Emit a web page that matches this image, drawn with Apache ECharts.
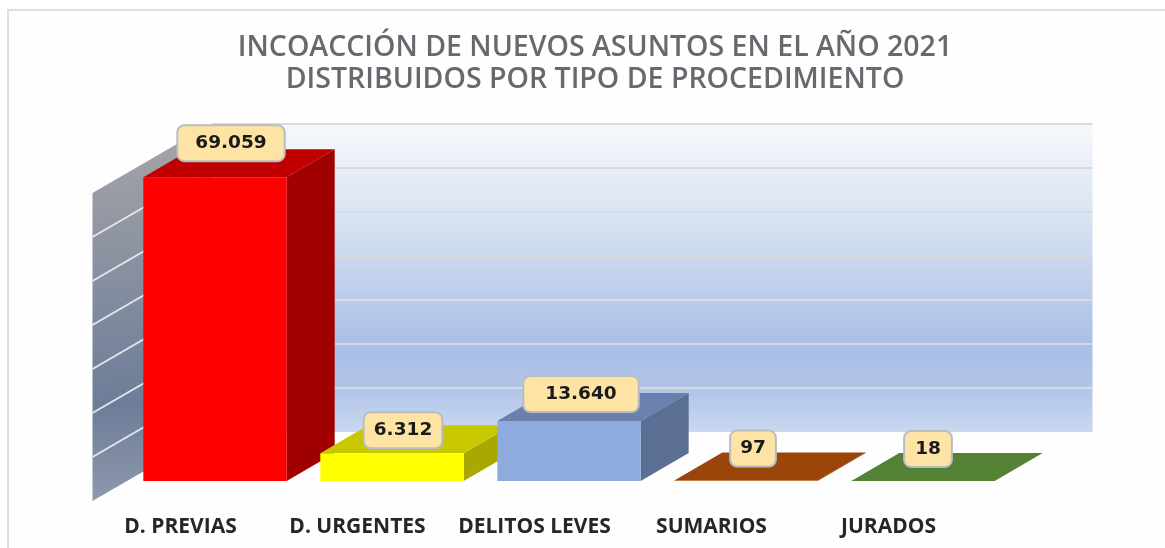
<!DOCTYPE html>
<html>
<head>
<meta charset="utf-8">
<style>
    html, body { margin: 0; padding: 0; background: #fff; }
    #chart { width: 1165px; height: 548px; }
</style>
<script src="https://cdn.jsdelivr.net/npm/echarts@6/dist/echarts.min.js"></script>
</head>
<body>
<div id="chart"></div>
<script>
    var titleLines = ['INCOACCIÓN DE NUEVOS ASUNTOS EN EL AÑO 2021', 'DISTRIBUIDOS POR TIPO DE PROCEDIMIENTO'];
    var categories = ['D. PREVIAS', 'D. URGENTES', 'DELITOS LEVES', 'SUMARIOS', 'JURADOS'];
    var values = [69059, 6312, 13640, 97, 18];
    var yTicks = [0, 10000, 20000, 30000, 40000, 50000, 60000, 70000];

    // front, top, side
    var barColors = [
        ['#ff0000', '#c00000', '#a00000'],
        ['#ffff00', '#c8c800', '#a8a800'],
        ['#8faadc', '#6b80ad', '#5b6e93'],
        ['#c55a11', '#9a460b', '#7f3a09'],
        ['#70ad47', '#548235', '#43682a']
    ];
    // where each value box sits relative to the bar's top front centre, and its side padding
    var labelShift = [[16, -34], [11, -23], [12, -27], [7, -32], [5, -32]];
    var labelPad = [17, 9, 21, 9, 10];

    var BAR_DX = 48, BAR_DY = -28;
    var BACK_LEFT = 85, BACK_RIGHT = 81, BACK_DY = -49;
    var FRONT_DX = -34, FRONT_DY = 20;

    function fmt(v) {
        return String(v).replace(/\B(?=(\d{3})+$)/g, '.');
    }

    function renderWalls(params, api) {
        var cs = params.coordSys;
        var left = cs.x, right = cs.x + cs.width;
        var y0 = api.coord([0, 0])[1];
        var yTop = api.coord([0, yTicks[yTicks.length - 1]])[1];
        var backL = left + BACK_LEFT, backR = right + BACK_RIGHT;
        var frontL = left + FRONT_DX;
        var children = [
            {
                type: 'polygon',
                shape: { points: [[backL, yTop + BACK_DY], [backR, yTop + BACK_DY], [backR, y0 + BACK_DY], [backL, y0 + BACK_DY]] },
                style: {
                    fill: {
                        type: 'linear', x: 0, y: 0, x2: 0, y2: 1,
                        colorStops: [
                            { offset: 0, color: '#f6f8fc' },
                            { offset: 0.35, color: '#d3dff0' },
                            { offset: 0.72, color: '#a9bee6' },
                            { offset: 0.85, color: '#b1c4e8' },
                            { offset: 1, color: '#c9d7ef' }
                        ]
                    }
                }
            },
            {
                type: 'polygon',
                shape: { points: [[frontL, yTop + FRONT_DY], [backL, yTop + BACK_DY], [backL, y0 + BACK_DY], [frontL, y0 + FRONT_DY]] },
                style: {
                    fill: {
                        type: 'linear', x: 0, y: 0, x2: 0.15, y2: 1,
                        colorStops: [
                            { offset: 0, color: '#a6a6a8' },
                            { offset: 0.75, color: '#6d7c99' },
                            { offset: 1, color: '#8e99ac' }
                        ]
                    }
                }
            }
        ];
        yTicks.forEach(function (t) {
            var y = api.coord([0, t])[1];
            if (t > 0) {
                children.push({
                    type: 'line',
                    shape: { x1: backL, y1: y + BACK_DY, x2: backR, y2: y + BACK_DY },
                    style: { stroke: '#d9dadf', lineWidth: 2 }
                });
            }
            if (t > 0 && t < yTicks[yTicks.length - 1]) {
                children.push({
                    type: 'line',
                    shape: { x1: frontL, y1: y + FRONT_DY, x2: backL, y2: y + BACK_DY },
                    style: { stroke: '#e4e6ea', lineWidth: 2 }
                });
            }
        });
        return { type: 'group', children: children };
    }

    function renderBar(params, api) {
        var i = api.value(0);
        var base = api.coord([i, 0]);
        var top = api.coord([i, api.value(1)]);
        var w = api.size([1, 0])[0] * 0.81;
        var x1 = base[0] - w / 2, x2 = base[0] + w / 2;
        var c = barColors[i];
        return {
            type: 'group',
            children: [
                {
                    type: 'polygon',
                    shape: { points: [[x2, top[1]], [x2 + BAR_DX, top[1] + BAR_DY], [x2 + BAR_DX, base[1] + BAR_DY], [x2, base[1]]] },
                    style: { fill: c[2] }
                },
                {
                    type: 'polygon',
                    shape: { points: [[x1, top[1]], [x1 + BAR_DX, top[1] + BAR_DY], [x2 + BAR_DX, top[1] + BAR_DY], [x2, top[1]]] },
                    style: { fill: c[1] }
                },
                {
                    type: 'rect',
                    shape: { x: x1, y: top[1], width: w, height: base[1] - top[1] },
                    style: { fill: c[0] }
                }
            ]
        };
    }

    function renderValueBox(params, api) {
        var i = api.value(0);
        var p = api.coord([i, api.value(1)]);
        return {
            type: 'text',
            x: p[0] + labelShift[i][0],
            y: p[1] + labelShift[i][1],
            style: {
                text: fmt(api.value(1)),
                font: 'bold 18.5px "DejaVu Sans"',
                fill: '#1a1a1a',
                align: 'center',
                verticalAlign: 'middle',
                backgroundColor: '#fde4a5',
                borderColor: '#b9bdc2',
                borderWidth: 2,
                borderRadius: 6,
                padding: [8, labelPad[i], 7, labelPad[i]]
            }
        };
    }

    var chart = echarts.init(document.getElementById('chart'));
    var barData = values.map(function (v, i) { return [i, v]; });

    chart.setOption({
        animation: false,
        textStyle: { fontFamily: '"Open Sans"' },
        title: {
            text: titleLines.join('\n'),
            left: 590,
            top: 27,
            textAlign: 'center',
            textStyle: { fontFamily: '"Open Sans"', fontSize: 28.5, fontWeight: 600, color: '#666a6e', lineHeight: 32 }
        },
        graphic: [{
            type: 'rect',
            z: -10,
            shape: { x: 8, y: 10, width: 1300, height: 700 },
            style: { fill: '#fefefe', stroke: '#dedede', lineWidth: 2 }
        }],
        grid: { left: 126.5, right: 153.5, top: 173, bottom: 67 },
        xAxis: {
            type: 'category',
            data: categories,
            axisLine: { show: false },
            axisTick: { show: false },
            axisLabel: {
                interval: 0,
                margin: 36,
                padding: [0, 69, 0, 0],
                color: '#262626',
                fontFamily: '"Open Sans"',
                fontWeight: 'bold',
                fontSize: 21
            }
        },
        yAxis: {
            type: 'value',
            min: 0,
            max: 70000,
            interval: 10000,
            show: false,
            splitLine: { show: false }
        },
        series: [
            { type: 'custom', name: 'walls', silent: true, z: 1, data: [[0, 0]], renderItem: renderWalls },
            { type: 'custom', name: 'bars', z: 2, data: barData, encode: { x: 0, y: 1 }, renderItem: renderBar },
            { type: 'custom', name: 'labels', z: 3, data: barData, encode: { x: 0, y: 1 }, renderItem: renderValueBox }
        ]
    });
</script>
</body>
</html>
